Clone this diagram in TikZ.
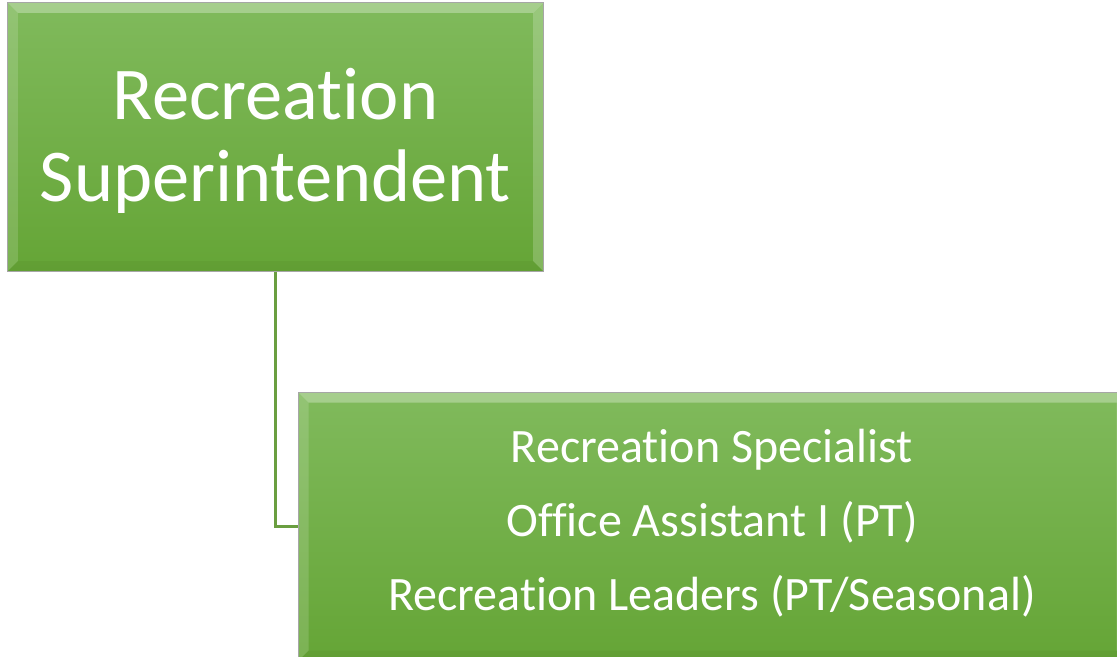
\documentclass[tikz,border=0pt]{standalone}
\usepackage{fontspec}
\setmainfont[RawFeature={-liga;-clig;-dlig;-calt}]{Carlito}
\definecolor{gtop}{HTML}{80BA5C}
\definecolor{gbot}{HTML}{65A536}
\definecolor{gline}{HTML}{6A9E40}
\definecolor{gedge}{HTML}{A6A6A6}
\tikzset{
  orgbox/.style={rectangle, draw=gedge, line width=1bp, top color=gtop, bottom color=gbot,
    text=white, align=center, inner sep=0pt,
    path picture={
      \fill[white,opacity=0.3] (path picture bounding box.north west) -- (path picture bounding box.north east)
        -- ([xshift=-10bp,yshift=-10bp]path picture bounding box.north east) -- ([xshift=10bp,yshift=-10bp]path picture bounding box.north west) -- cycle;
      \fill[white,opacity=0.15] (path picture bounding box.north west) -- ([xshift=10bp,yshift=-10bp]path picture bounding box.north west)
        -- ([xshift=10bp,yshift=10bp]path picture bounding box.south west) -- (path picture bounding box.south west) -- cycle;
      \fill[white,opacity=0.2] (path picture bounding box.north east) -- ([xshift=-10bp,yshift=-10bp]path picture bounding box.north east)
        -- ([xshift=-10bp,yshift=10bp]path picture bounding box.south east) -- (path picture bounding box.south east) -- cycle;
      \fill[black,opacity=0.04] (path picture bounding box.south west) -- (path picture bounding box.south east)
        -- ([xshift=-10bp,yshift=10bp]path picture bounding box.south east) -- ([xshift=10bp,yshift=10bp]path picture bounding box.south west) -- cycle;
    }},
  conn/.style={draw=gline, line width=2.5bp}
}
\begin{document}
\begin{tikzpicture}[x=1bp,y=-1bp]
\useasboundingbox (0,0) rectangle (1117,657);
\node[orgbox, minimum width=535bp, minimum height=268bp] (sup) at (275.5,137) {};
\node[text=white, align=center, inner sep=0pt,
  font=\fontsize{74.5bp}{82bp}\selectfont] (suptext) at (275.5,141) {Recreation\\Superintendent};
\node[orgbox, minimum width=828bp, minimum height=268bp, anchor=north west,
  font=\fontsize{48bp}{74bp}\selectfont] (staff) at (298,392) {};
\node[text=white, align=center, inner sep=0pt,
  font=\fontsize{48bp}{74bp}\selectfont] (stafftext) at (712,522)
  {\strut Recreation Specialist\\\strut Office Assistant I (PT)\\\strut Recreation Leaders (PT/Seasonal)};
\coordinate (bend) at (sup.south |- staff.west);
\draw[conn] (sup.south) -- (bend) -- (staff.west);
\end{tikzpicture}
\end{document}
